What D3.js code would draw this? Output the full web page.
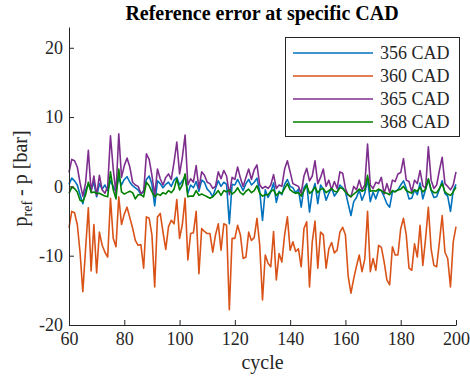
<!DOCTYPE html>
<html>
<head>
<meta charset="utf-8">
<script src="https://cdn.jsdelivr.net/npm/d3@7"></script>
<style>
  html, body { margin: 0; padding: 0; background: #fff; }
  svg { display: block; }
  svg text { font-family: "Liberation Serif", "Times New Roman", serif; }
</style>
</head>
<body>
<div id="app"></div>
<script>
const width = 470
const height = 377
const margin = { top: 27, right: 14, bottom: 52, left: 69 }

const cycles = d3.range(60, 201)
const seriesNames = ["356 CAD", "360 CAD", "365 CAD", "368 CAD"]
const colors = ["#0072BD", "#D95319", "#7E2F8E", "#008000"]
const xTicks = [60, 80, 100, 120, 140, 160, 180, 200]
const yTicks = [-20, -10, 0, 10, 20]

// 356 CAD
const cad356 = [
  0.3, 1.2, 0.8, 0.2, -1.2, -2.5, -0.5, 0.3, -0.5, 0.6,
  -1.5, 0.4, -0.4, 0.2, -0.6, 0.8, 0.0, -0.8, 1.3, 0.2,
  1.0, 1.4, 0.6, 0.1, -0.2, -0.5, -1.2, -0.6, 1.0, 1.5,
  0.3, -2.8, 0.8, 0.4, -0.2, 0.3, 0.6, 0.0, 0.9, 1.3,
  0.2, 0.8, 1.4, -1.0, 0.2, -0.2, 0.7, -0.7, 0.9, 0.6,
  -0.4, -0.8, -1.5, -0.3, 0.8, 0.0, 0.6, 0.3, -5.4, 0.3,
  0.2, 1.0, 0.2, -0.6, 0.4, 1.0, 0.2, 0.6, 1.2, -0.7,
  -4.9, -0.5, -1.6, -0.8, 0.5, -2.3, -0.7, -1.2, 0.3, 1.0,
  0.0, -0.2, -0.9, -0.4, -3.0, -0.2, 0.4, -3.7, -0.8, 0.4,
  -2.5, 0.2, -0.4, -2.0, -1.0, -0.2, -1.4, -0.8, 0.2, -0.2,
  -0.8, -2.5, -4.2, -2.2, -1.6, -0.5, -2.0, -1.0, 1.0, -2.2,
  -0.8, -1.8, -0.6, -0.6, -1.5, -2.5, -3.0, -0.8, -0.7, -0.5,
  0.2, 0.8, -0.3, -1.8, -1.7, -0.5, -1.2, 0.5, -1.8, -0.4,
  1.0, -0.6, -1.6, -1.5, -0.4, 0.8, -1.0, -1.4, -3.6, -0.6,
  0.3
]
// 360 CAD
const cad360 = [
  -6.0, -3.6, -3.8, -5.5, -9.5, -15.2, -9.0, -3.1, -12.2, -5.5,
  -12.5, -6.6, -8.5, -9.5, -10.2, -1.7, -7.5, -8.7, -1.5, -5.5,
  -4.0, -3.0, -4.5, -6.0, -7.8, -8.5, -8.4, -11.8, -4.4, -4.6,
  -7.0, -14.5, -4.4, -3.9, -6.6, -9.1, -5.8, -4.9, -5.4, -1.9,
  -7.5, -5.5, -1.7, -10.6, -6.8, -6.7, -3.6, -12.6, -6.1, -6.5,
  -6.8, -6.8, -9.5, -7.0, -5.4, -9.2, -5.4, -5.6, -17.8, -7.5,
  -7.5, -5.6, -7.0, -10.4, -10.2, -6.6, -7.8, -7.4, -4.6, -8.5,
  -16.4, -9.9, -11.1, -11.6, -6.5, -13.5, -9.7, -10.9, -7.0, -4.4,
  -9.2, -8.0, -9.4, -9.0, -11.6, -6.1, -5.1, -14.5, -8.0, -5.0,
  -11.8, -6.6, -7.0, -11.8, -9.0, -8.1, -9.6, -9.2, -6.6, -5.9,
  -7.0, -13.0, -15.4, -13.3, -11.5, -9.9, -12.3, -10.5, -3.6, -12.3,
  -10.4, -12.1, -8.5, -8.8, -10.9, -13.5, -14.2, -8.7, -9.9, -9.9,
  -6.1, -4.6, -7.0, -11.8, -12.1, -8.3, -10.2, -5.6, -11.4, -7.5,
  -3.0, -9.0, -11.4, -11.6, -8.0, -4.2, -9.5, -10.4, -14.5, -8.0,
  -5.8
]
// 365 CAD
const cad365 = [
  2.0, 3.9, 3.7, 2.8, 0.5, -1.4, 0.5, 5.2, -0.8, 1.5,
  -1.3, 1.6, -0.5, -1.0, 0.0, 7.3, 2.5, -1.0, 7.6, 1.3,
  3.0, 4.1, 2.8, 0.6, 0.2, 0.0, -1.0, -0.8, 4.7, 3.9,
  1.6, -1.3, 2.5, 1.1, 0.2, 1.3, 1.8, 1.0, 3.5, 6.4,
  1.8, 4.2, 7.4, 0.2, 1.1, 0.6, 3.0, -0.3, 2.1, 1.6,
  0.6, 0.4, -0.3, 0.0, 2.1, 1.1, 2.3, 1.5, -1.2, 1.3,
  1.0, 2.8, 1.2, 0.0, 1.3, 2.5, 1.0, 2.4, 3.1, 0.2,
  -0.3, 0.0, -0.3, 0.2, 1.7, -0.3, 0.2, 0.0, 2.5, 3.7,
  2.1, 0.4, 0.2, 0.0, -1.0, 1.5, 2.6, 0.8, 1.5, 3.7,
  0.4, 1.3, 2.5, 0.0, 0.9, -0.5, 0.7, -0.3, 2.1, 1.9,
  -0.3, -1.3, -1.5, 0.0, -0.5, 0.9, -0.5, 0.2, 6.1, 0.2,
  -0.3, 0.6, 0.4, 1.3, -1.1, 0.4, -0.9, 0.9, 0.7, 1.8,
  2.0, 4.0, 0.9, 0.7, -0.8, 0.9, 0.4, 2.3, 0.1, -0.3,
  5.7, 0.9, -0.3, 0.2, 2.3, 4.2, 0.4, 0.0, -0.5, 0.2,
  2.1
]
// 368 CAD
const cad368 = [
  -1.0, -0.1, -0.3, -0.8, -2.0, -2.2, -1.2, 0.6, -0.9, -0.8,
  -1.0, -1.0, -1.2, -1.4, -1.5, 2.1, -0.5, -1.8, 2.5, -0.8,
  -1.1, -0.9, -0.7, -0.9, -1.8, -1.2, -1.2, -1.5, 0.6, 0.1,
  -0.8, -1.5, -1.1, -1.3, -0.9, -1.1, -0.6, -0.9, -0.4, 1.1,
  -0.5, 0.2, 1.8, -1.5, -1.4, -1.4, -0.6, -1.3, -1.1, -1.3,
  -1.5, -1.7, -1.5, -1.1, -0.6, -1.3, -0.6, -0.8, -0.5, -1.1,
  -0.8, -0.2, -0.9, -1.2, -0.7, -0.4, -0.9, -0.6, 0.1, -1.0,
  -1.4, -1.2, -1.2, -0.7, -0.5, -1.3, -0.9, -1.0, -0.3, 0.4,
  -0.5, -0.8, -1.0, -0.9, -1.4, -0.6, 0.2, -1.0, -0.7, -0.1,
  -0.9, -0.4, -0.3, -0.9, -0.6, -0.3, -0.7, -0.8, -0.2, -0.3,
  -0.8, -1.2, -1.5, -1.1, -0.8, -0.4, -0.7, -0.5, 1.6, -0.7,
  -0.6, -0.7, -0.4, -0.6, -0.9, -1.0, -1.2, -0.6, -0.8, -0.5,
  -0.4, 0.0, -0.6, -0.8, -1.0, -0.5, -0.7, -0.1, -0.8, -0.4,
  1.1, -0.5, -0.9, -0.9, -0.3, 0.4, -0.8, -1.1, -1.3, -0.8,
  -0.1
]
const seriesValues = [cad356, cad360, cad365, cad368]

const x = d3.scaleLinear().domain([60, 200]).range([margin.left, width - margin.right])
const y = d3.scaleLinear().domain([-20, 23]).range([height - margin.bottom, margin.top])

const svg = d3.select("#app").append("svg")
    .attr("width", width)
    .attr("height", height)

const axisColor = "#262626"
const serif = '"Liberation Serif", "Times New Roman", serif'

// lines
const line = d3.line()
    .x((d, i) => x(cycles[i]))
    .y(d => y(d))

seriesValues.forEach((vals, k) => {
    svg.append("path")
        .datum(vals)
        .attr("fill", "none")
        .attr("stroke", colors[k])
        .attr("stroke-width", 1.6)
        .attr("stroke-linejoin", "round")
        .attr("d", line)
})

// axes (ticks point inward, no box), plain hyphen for negatives like MATLAB
const styleAxis = g => g
    .attr("font-family", null)
    .call(g => g.select(".domain").attr("stroke", axisColor))
    .call(g => g.selectAll(".tick line").attr("stroke", axisColor))
    .call(g => g.selectAll(".tick text")
        .attr("fill", axisColor)
        .style("font-size", "18px")
        .style("font-family", serif))

const xAxis = g => g
    .attr("transform", `translate(0, ${height - margin.bottom})`)
    .call(d3.axisBottom(x).tickValues(xTicks).tickFormat(d => String(d))
        .tickSizeInner(-5).tickSizeOuter(0).tickPadding(7))
    .call(styleAxis)

const yAxis = g => g
    .attr("transform", `translate(${margin.left}, 0)`)
    .call(d3.axisLeft(y).tickValues(yTicks).tickFormat(d => String(d))
        .tickSizeInner(-5).tickSizeOuter(0).tickPadding(6))
    .call(styleAxis)

svg.append("g").call(xAxis)
svg.append("g").call(yAxis)

// title
svg.append("text")
    .attr("x", 262)
    .attr("y", 20)
    .attr("text-anchor", "middle")
    .attr("font-weight", "bold")
    .style("font-size", "20px")
    .attr("fill", "#000")
    .text("Reference error at specific CAD")

// x label
svg.append("text")
    .attr("x", x(130))
    .attr("y", 369)
    .attr("text-anchor", "middle")
    .style("font-size", "20px")
    .attr("fill", axisColor)
    .text("cycle")

// y label
const yl = svg.append("text")
    .attr("transform", `translate(27, ${y(0) - 8}) rotate(-90)`)
    .attr("text-anchor", "middle")
    .style("font-size", "20px")
    .attr("fill", axisColor)
yl.append("tspan").text("p")
yl.append("tspan").style("font-size", "14px").attr("dy", 5).text("ref")
yl.append("tspan").attr("dy", -5).text(" - p [bar]")

// legend
const legend = svg.append("g")
legend.append("rect")
    .attr("x", 285.5)
    .attr("y", 37.5)
    .attr("width", 174)
    .attr("height", 99)
    .attr("fill", "#fff")
    .attr("stroke", axisColor)
    .attr("stroke-width", 1)

seriesNames.forEach((name, k) => {
    const ly = 53 + k * 23
    legend.append("line")
        .attr("x1", 293).attr("x2", 373)
        .attr("y1", ly).attr("y2", ly)
        .attr("stroke", colors[k])
        .attr("stroke-width", 1.6)
    legend.append("text")
        .attr("x", 380)
        .attr("y", ly + 6)
        .style("font-size", "18px")
        .attr("fill", axisColor)
        .text(name)
})
</script>
</body>
</html>
